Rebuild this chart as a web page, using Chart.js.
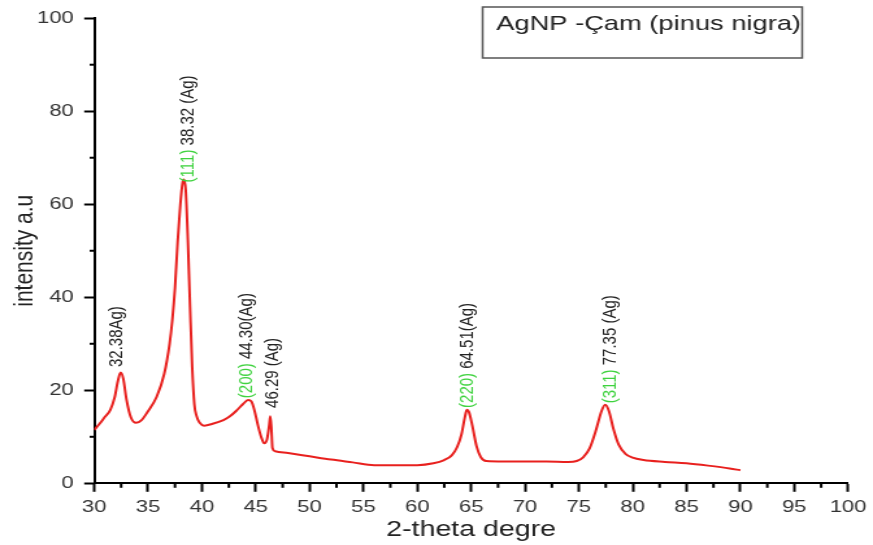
<!DOCTYPE html>
<html>
<head>
<meta charset="utf-8">
<script src="https://cdn.jsdelivr.net/npm/chart.js@4.4.0/dist/chart.umd.min.js"></script>
<style>
  html, body { margin: 0; padding: 0; background: #fff; overflow: hidden; }
  /* the original picture is stretched sideways, so draw narrow and stretch */
  #wrap { position: absolute; left: 0; top: 0; width: 672px; height: 545px;
          transform: scaleX(1.2991); transform-origin: 0 0; }
</style>
</head>
<body>
<div id="wrap"><canvas id="xrd"></canvas></div>
<script>
// XRD pattern
const twoTheta = [
  30.0, 30.5, 31.0, 31.5, 31.9, 32.2, 32.45, 32.7, 33.0, 33.4, 33.9, 34.4, 35.0, 35.8, 36.5,
  37.0, 37.25, 37.5, 37.75, 38.0, 38.2, 38.33, 38.5, 38.7, 38.9, 39.1, 39.3, 39.5, 39.8, 40.2,
  41.0, 42.0, 42.6, 43.2, 43.8, 44.3, 44.6, 44.9, 45.2, 45.5, 45.8, 46.05, 46.25, 46.35, 46.45,
  46.55, 46.8, 48.0, 50.0, 52.0, 54.0, 56.0, 58.0, 60.0, 61.5, 62.5, 63.2, 63.7, 64.1, 64.4,
  64.6, 64.8, 65.1, 65.5, 65.9, 66.4, 68.0, 70.0, 72.0, 74.0, 74.8, 75.4, 76.0, 76.6, 77.1,
  77.45, 77.8, 78.2, 78.7, 79.3, 80.0, 81.0, 83.0, 85.0, 87.0, 89.0, 90.0
];
const intensity = [
  11.5, 12.8, 14.3, 15.8, 18.5, 22.0, 23.8, 22.5, 18.0, 14.2, 13.0, 13.6, 15.5, 18.6, 23.5,
  30.0, 35.0, 42.0, 52.0, 60.0, 64.5, 65.3, 63.0, 52.0, 38.0, 25.0, 17.0, 14.5, 13.0, 12.4,
  12.8, 13.6, 14.4, 15.6, 17.0, 17.9, 17.6, 15.5, 12.5, 10.0, 8.6, 9.5, 12.5, 14.4, 12.0,
  7.6, 6.9, 6.5, 5.8, 5.1, 4.5, 3.9, 3.9, 3.9, 4.3, 5.0, 6.0, 7.8, 10.5, 14.0,
  15.8, 15.3, 12.5, 8.0, 5.6, 4.8, 4.7, 4.7, 4.7, 4.6, 4.8, 5.6, 7.5, 11.5, 15.5,
  16.9, 15.5, 11.8, 8.3, 6.4, 5.5, 5.0, 4.6, 4.3, 3.8, 3.2, 2.8
];

// axes
const xTickValues = [30, 35, 40, 45, 50, 55, 60, 65, 70, 75, 80, 85, 90, 95, 100];
const xMinorTicks = [32.5, 37.5, 42.5, 47.5, 52.5, 57.5, 62.5, 67.5, 72.5, 77.5, 82.5, 87.5, 92.5, 97.5];
const yTickValues = [0, 20, 40, 60, 80, 100];
const yMinorTicks = [10, 30, 50, 70, 90];

// peak annotations (anchor = bottom of the rotated text, in data units)
const peakHkl   = ['', '(111)', '(200)', '', '(220)', '(311)'];
const peakNames = ['32.38Ag)', '38.32 (Ag)', '44.30(Ag)', '46.29 (Ag)', '64.51(Ag)', '77.35 (Ag)'];
const labelX    = [32.1, 38.67, 44.1, 46.53, 64.66, 77.96];
const labelY    = [25.0, 64.7, 18.3, 16.2, 16.2, 17.2];

const legendText = 'AgNP -Çam (pinus nigra)';

const FONT = '"Liberation Sans", Arial, sans-serif';

const decor = {
  id: 'decor',
  afterDraw(chart) {
    const { ctx, scales: { x, y } } = chart;
    ctx.save();
    // minor ticks
    ctx.strokeStyle = '#000';
    ctx.lineWidth = 2;
    xMinorTicks.forEach(v => {
      const px = x.getPixelForValue(v);
      ctx.beginPath(); ctx.moveTo(px, x.top); ctx.lineTo(px, x.top + 4.5); ctx.stroke();
    });
    yMinorTicks.forEach(v => {
      const py = y.getPixelForValue(v);
      ctx.beginPath(); ctx.moveTo(y.right, py); ctx.lineTo(y.right - 3.5, py); ctx.stroke();
    });

    // peak labels
    ctx.font = '15px ' + FONT;
    ctx.textBaseline = 'middle';
    ctx.textAlign = 'left';
    peakNames.forEach((name, i) => {
      const px = x.getPixelForValue(labelX[i]);
      const py = y.getPixelForValue(labelY[i]);
      ctx.save();
      ctx.translate(px, py);
      ctx.rotate(-Math.PI / 2);
      let off = 0;
      if (peakHkl[i]) {
        ctx.fillStyle = '#3fd23f';
        ctx.fillText(peakHkl[i], 0, 0);
        off = ctx.measureText(peakHkl[i] + ' ').width;
      }
      ctx.fillStyle = '#222';
      ctx.fillText(name, off, 0);
      ctx.restore();
    });

    // legend box top right
    ctx.strokeStyle = '#555';
    ctx.lineWidth = 1.5;
    ctx.strokeRect(371.5, 7, 246, 51);
    ctx.fillStyle = '#222';
    ctx.font = '21px ' + FONT;
    ctx.textBaseline = 'alphabetic';
    ctx.fillText(legendText, 382, 30);
    ctx.restore();
  }
};

new Chart(document.getElementById('xrd'), {
  type: 'line',
  data: {
    datasets: [{
      data: twoTheta.map((t, i) => ({ x: t, y: intensity[i] })),
      borderColor: '#e8201e',
      borderWidth: 2,
      pointRadius: 0,
      fill: false,
      cubicInterpolationMode: 'monotone'
    }]
  },
  options: {
    responsive: true,
    maintainAspectRatio: false,
    animation: false,
    layout: { padding: { top: 17.3, right: 17.6, left: 0, bottom: 0 } },
    plugins: { legend: { display: false }, tooltip: { enabled: false } },
    scales: {
      x: {
        type: 'linear',
        min: 30, max: 100,
        afterBuildTicks: s => { s.ticks = xTickValues.map(v => ({ value: v })); },
        afterFit: s => { s.height = 61.7; },
        border: { color: '#000', width: 2 },
        grid: { drawOnChartArea: false, drawTicks: true, tickLength: 8.5, tickColor: '#000', tickWidth: 2 },
        ticks: { color: '#333', font: { family: FONT, size: 17 }, padding: 5, maxRotation: 0, autoSkip: false },
        title: { display: true, text: '2-theta degre', color: '#222', font: { family: FONT, size: 22 },
                 padding: { top: 0, bottom: 2 } }
      },
      y: {
        min: 0, max: 100,
        afterBuildTicks: s => { s.ticks = yTickValues.map(v => ({ value: v })); },
        afterFit: s => { s.width = 72.5; },
        border: { color: '#000', width: 2 },
        grid: { drawOnChartArea: false, drawTicks: true, tickLength: 7.7, tickColor: '#000', tickWidth: 2 },
        ticks: { color: '#333', font: { family: FONT, size: 17 }, padding: 8 },
        title: { display: true, text: 'intensity a.u', color: '#222', font: { family: FONT, size: 21 },
                 padding: { top: 6.6, bottom: 0 } }
      }
    }
  },
  plugins: [decor]
});
</script>
</body>
</html>
